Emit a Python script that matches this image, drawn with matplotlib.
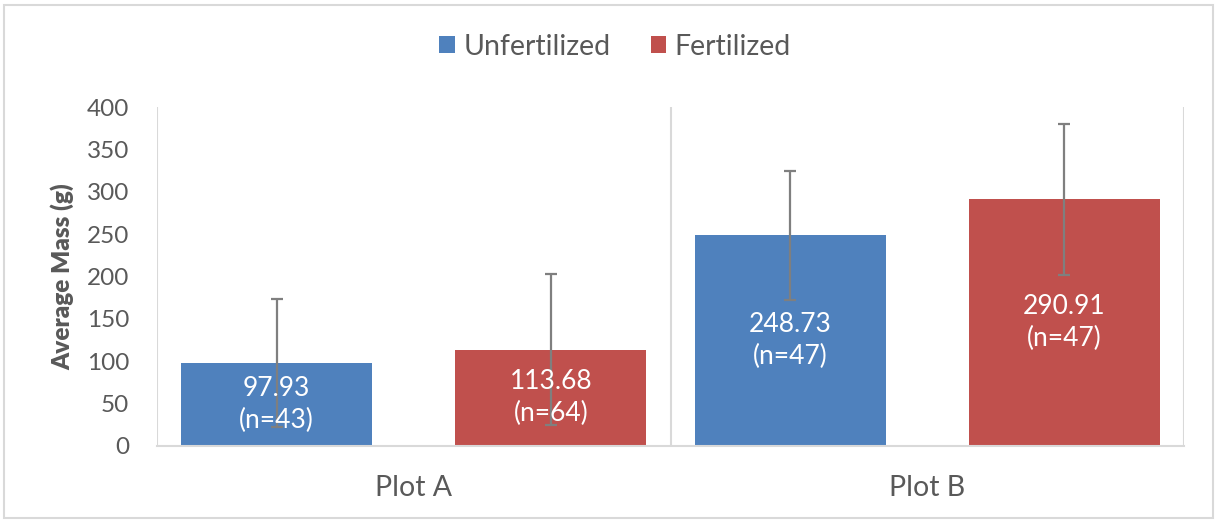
import numpy as np
import matplotlib
matplotlib.use("Agg")
import matplotlib.pyplot as plt
from matplotlib.patches import Rectangle

# --- data ---
plots = ["Plot A", "Plot B"]
series = ["Unfertilized", "Fertilized"]
unfert_mean = [97.93, 248.73]
fert_mean = [113.68, 290.91]
unfert_err = [76, 76]
fert_err = [89, 89]
unfert_n = [43, 47]
fert_n = [64, 47]
y_ticks = [0, 50, 100, 150, 200, 250, 300, 350, 400]

colors = {"Unfertilized": "#4F81BD", "Fertilized": "#C0504D"}
text_col = "#595959"
grid_col = "#D9D9D9"

plt.rcParams["font.family"] = ["Lato", "DejaVu Sans"]

fig = plt.figure(figsize=(12.16, 5.21), dpi=100)
ax = fig.add_axes([157 / 1216, 75 / 521, 1027 / 1216, 339 / 521])

x = np.arange(len(plots))
width = 0.372
offset = 0.267

for vals, errs, ns, name, sign in [(unfert_mean, unfert_err, unfert_n, "Unfertilized", -1),
                                    (fert_mean, fert_err, fert_n, "Fertilized", 1)]:
    pos = x + sign * offset
    ax.bar(pos, vals, width, color=colors[name], label=name, zorder=2)
    ax.errorbar(pos, vals, yerr=errs, fmt="none", ecolor="#7F7F7F",
                elinewidth=1.6, capsize=4, capthick=1.6, zorder=3)
    for p, v, n in zip(pos, vals, ns):
        ax.text(p, v / 2, f"{v:.2f}\n(n={n})", ha="center", va="center",
                color="white", fontsize=19, linespacing=1.35, zorder=4)

ax.set_xlim(-0.5, 1.5)
ax.set_ylim(0, 400)
ax.set_yticks(y_ticks)
ax.set_xticks(x)
ax.set_xticklabels(plots)

# category separators like Excel's vertical gridlines
ax.set_xticks([-0.5, 0.5, 1.5], minor=True)
ax.grid(True, which="minor", axis="x", color=grid_col, lw=1.5, zorder=0)
ax.grid(False, which="major")

for s in ["top", "right", "left"]:
    ax.spines[s].set_visible(False)
ax.spines["bottom"].set_color(grid_col)
ax.spines["bottom"].set_linewidth(1.5)

ax.tick_params(axis="y", length=0, pad=20, labelsize=17.5, labelcolor=text_col)
ax.tick_params(axis="x", which="both", length=0, pad=21, labelsize=20.5, labelcolor=text_col)

ax.set_ylabel("Average Mass (g)", fontsize=17.5, fontweight="heavy", color=text_col)
ax.yaxis.set_label_coords(-0.081, 0.5)

leg = fig.legend(loc="center", bbox_to_anchor=(0.506, 0.91), ncol=2, frameon=False,
                 fontsize=20.5, handlelength=0.55, handleheight=0.55,
                 handletextpad=0.3, columnspacing=1.4)
for t in leg.get_texts():
    t.set_color(text_col)

# light outer chart border
fig.patches.append(Rectangle((4 / 1216, 3 / 521), 1209 / 1216, 513 / 521,
                             transform=fig.transFigure, fill=False,
                             edgecolor=grid_col, lw=1.5))

fig.savefig("out.png", dpi=100)
